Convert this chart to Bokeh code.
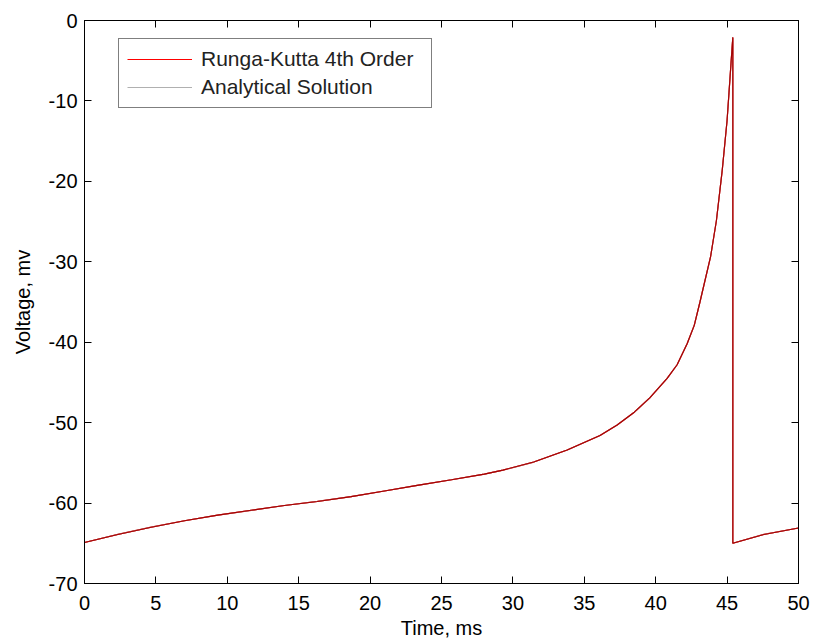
from bokeh.plotting import figure
from bokeh.models import Range1d, LinearAxis, Legend, LegendItem, FixedTicker
from bokeh.embed import file_html
from bokeh.resources import INLINE

# ---- data ----
time_ms = [0.0, 2.33, 4.67, 7.0, 9.33, 11.67, 14.0, 16.3, 18.67, 21.0, 23.3,
           25.7, 28.0, 29.3, 31.46, 33.8, 36.1, 37.3, 38.5, 39.6, 40.8, 41.5,
           42.2, 42.7, 43.1, 43.84, 44.25, 44.66, 45.0, 45.24, 45.4, 45.4,
           47.57, 50.0]
v_rk4 = [-64.9, -63.9, -63.0, -62.2, -61.5, -60.9, -60.3, -59.8, -59.2, -58.5,
         -57.8, -57.1, -56.4, -55.9, -54.9, -53.4, -51.6, -50.3, -48.7, -46.9,
         -44.5, -42.8, -40.2, -37.9, -35.0, -29.4, -24.9, -18.6, -12.4, -6.2,
         -2.1, -65.0, -63.9, -63.1]
# the analytical solution coincides with the RK4 curve at plot resolution
v_analytical = [-64.9, -63.9, -63.0, -62.2, -61.5, -60.9, -60.3, -59.8, -59.2, -58.5,
                -57.8, -57.1, -56.4, -55.9, -54.9, -53.4, -51.6, -50.3, -48.7, -46.9,
                -44.5, -42.8, -40.2, -37.9, -35.0, -29.4, -24.9, -18.6, -12.4, -6.2,
                -2.1, -65.0, -63.9, -63.1]
x_ticks = [0, 5, 10, 15, 20, 25, 30, 35, 40, 45, 50]
y_ticks = [-70, -60, -50, -40, -30, -20, -10, 0]
series_labels = ["Runga-Kutta 4th Order", "Analytical Solution"]

FONT = "Liberation Sans"
FS = "20px"

p = figure(width=813, height=641, output_backend="svg", toolbar_location=None,
           x_range=Range1d(0, 50), y_range=Range1d(-70, 0),
           min_border_left=84, min_border_right=15, min_border_top=20,
           min_border_bottom=58)
p.grid.visible = False
p.outline_line_color = "black"
p.outline_line_width = 1
p.background_fill_color = "white"
p.border_fill_color = "white"

# series renderers (used as legend keys), drawn first
k1 = p.line(time_ms, v_rk4, line_color="#ff0000", line_width=1.2)
k2 = p.line(time_ms, v_analytical, line_color="#b0b0b0", line_width=1.2)
# the two solutions overlap on screen: red seen through a translucent dark line
p.line(time_ms, v_rk4, line_color="#ff0000", line_width=1.1)
p.line(time_ms, v_analytical, line_color="black", line_alpha=0.36, line_width=1.1)


def style_axis(ax, ticks, show_labels):
    ax.ticker = FixedTicker(ticks=ticks)
    ax.major_tick_in = 7
    ax.major_tick_out = 0
    ax.minor_tick_in = 0
    ax.minor_tick_out = 0
    ax.axis_line_color = "black"
    ax.axis_line_width = 1
    ax.major_tick_line_color = "black"
    ax.major_tick_line_width = 1
    ax.major_label_text_font = FONT
    ax.axis_label_text_font = FONT
    ax.axis_label_text_font_style = "normal"
    ax.axis_label_text_color = "black"
    ax.axis_label_text_font_size = FS
    if show_labels:
        ax.major_label_text_font_size = FS
        ax.major_label_text_color = "black"
        ax.major_label_overrides = {float(t): str(t) for t in ticks}
    else:
        ax.major_label_text_font_size = "1px"
        ax.major_label_text_color = None
        ax.major_label_standoff = 0


xa = p.xaxis[0]
ya = p.yaxis[0]
style_axis(xa, x_ticks, True)
style_axis(ya, y_ticks, True)
xa.axis_label = "Time, ms"
ya.axis_label = "Voltage, mv"
xa.major_label_standoff = 12
xa.axis_label_standoff = 4
ya.major_label_standoff = 7
ya.axis_label_standoff = 12

top = LinearAxis()
style_axis(top, x_ticks, False)
p.add_layout(top, "above")
right = LinearAxis()
style_axis(right, y_ticks, False)
p.add_layout(right, "right")

legend = Legend(items=[LegendItem(label=series_labels[0], renderers=[k1]),
                       LegendItem(label=series_labels[1], renderers=[k2])],
                location=(34, 475), margin=0)
legend.border_line_color = "black"
legend.border_line_width = 1
legend.background_fill_color = "white"
legend.background_fill_alpha = 1
legend.label_text_font = FONT
legend.label_text_font_size = "21px"
legend.label_text_color = "#222222"
legend.glyph_width = 65
legend.glyph_height = 20
legend.label_height = 20
legend.label_width = 222
legend.label_standoff = 9
legend.padding = 8
legend.spacing = 4
p.add_layout(legend, "center")

open("out.html", "w").write(file_html(p, INLINE))
